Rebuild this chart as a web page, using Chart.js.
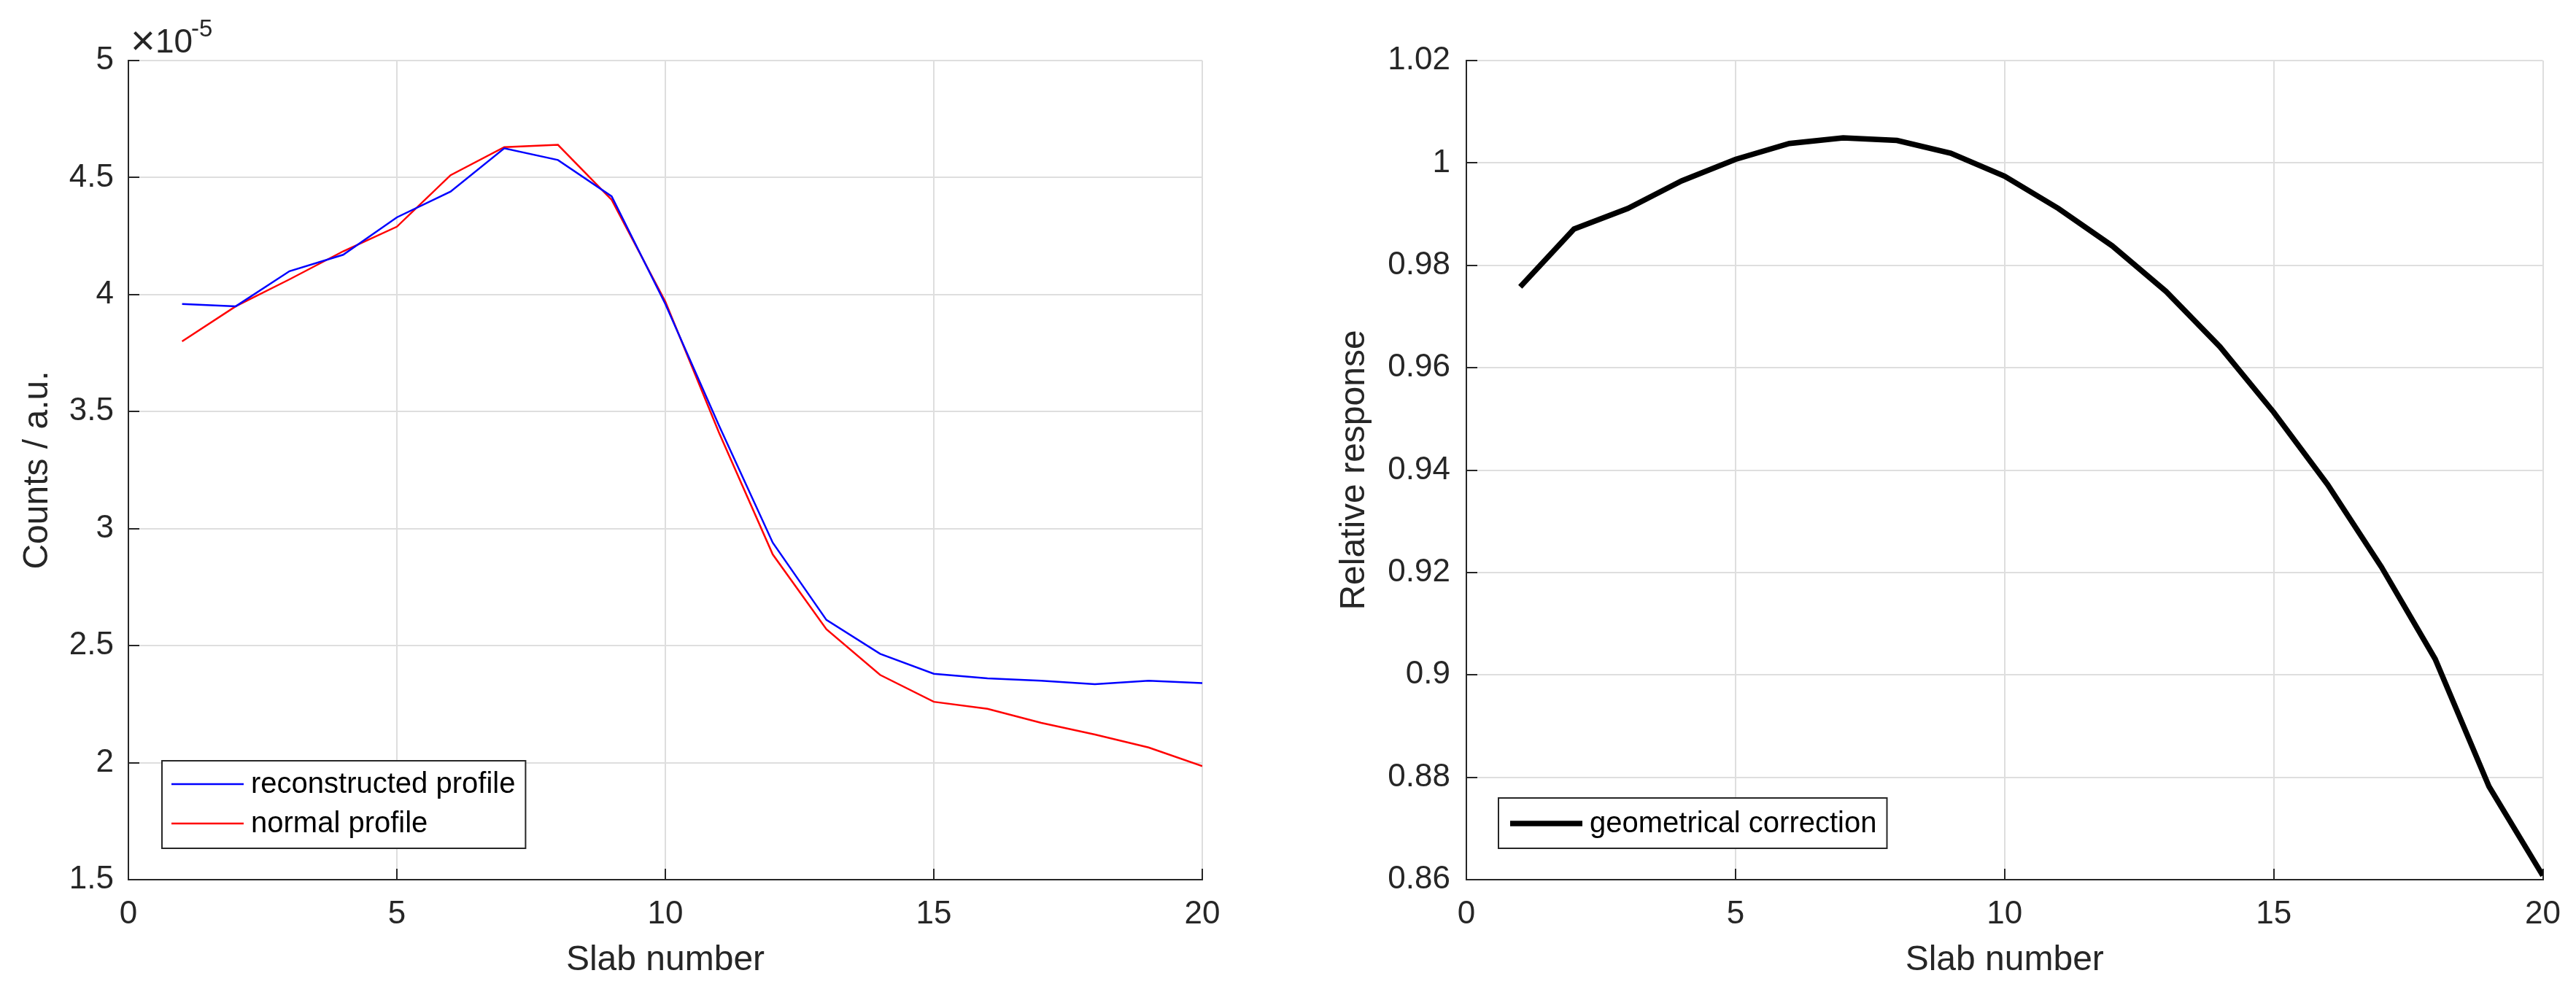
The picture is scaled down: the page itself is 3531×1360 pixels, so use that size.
<!DOCTYPE html>
<html>
<head>
<meta charset="utf-8">
<script src="https://cdn.jsdelivr.net/npm/chart.js@4.4.1/dist/chart.umd.min.js"></script>
<style>
  html, body { margin: 0; padding: 0; background: #ffffff; }
  body { width: 3531px; height: 1360px; position: relative; overflow: hidden; }
  .panel { position: absolute; top: 0; height: 1360px; }
  #p1 { left: 0; width: 1765px; }
  #p2 { left: 1765px; width: 1766px; }
</style>
</head>
<body>
<div class="panel" id="p1"><canvas id="c1" width="1765" height="1360"></canvas></div>
<div class="panel" id="p2"><canvas id="c2" width="1766" height="1360"></canvas></div>
<script>
// ---------------- data ----------------
const slabs = [1, 2, 3, 4, 5, 6, 7, 8, 9, 10, 11, 12, 13, 14, 15, 16, 17, 18, 19, 20];
// counts in units of 1e-5 (a.u.)
const reconstructedProfile = [3.96, 3.95, 4.10, 4.17, 4.33, 4.44, 4.625, 4.575, 4.42, 3.96,
                              3.44, 2.94, 2.61, 2.465, 2.38, 2.36, 2.35, 2.335, 2.35, 2.34];
const normalProfile = [3.80, 3.95, 4.065, 4.185, 4.29, 4.51, 4.63, 4.64, 4.405, 3.97,
                       3.41, 2.89, 2.57, 2.375, 2.26, 2.23, 2.17, 2.12, 2.065, 1.985];
const geometricalCorrection = [0.9758, 0.9871, 0.9911, 0.9965, 1.0007, 1.0038, 1.0049, 1.0044, 1.0019, 0.9974,
                               0.9911, 0.9838, 0.9749, 0.9641, 0.9513, 0.9372, 0.9211, 0.9031, 0.8782, 0.8608];
const countsExponent = '-5';
const xTicksRange = { min: 0, max: 20, step: 5 };
const leftYRange = { min: 1.5, max: 5, step: 0.5 };
const rightYRange = { min: 0.86, max: 1.02, step: 0.02 };
const labels = {
  xTitle: 'Slab number',
  leftY: 'Counts / a.u.',
  rightY: 'Relative response',
  rec: 'reconstructed profile',
  norm: 'normal profile',
  geo: 'geometrical correction'
};

// ---------------- styling ----------------
const FONT = '"Liberation Sans", Arial, Helvetica, sans-serif';
const AX = '#262626';
const GRID = '#dedede';

const pts = (xs, ys) => xs.map((x, i) => ({ x: x, y: ys[i] }));
const fmt = v => String(+(+v).toFixed(4));

// inward tick marks (MATLAB style)
const innerTicks = {
  id: 'innerTicks',
  beforeDatasetsDraw(chart) {
    const { ctx, chartArea: a, scales: { x, y } } = chart;
    ctx.save();
    ctx.strokeStyle = AX;
    ctx.lineWidth = 2;
    x.ticks.forEach(t => {
      const px = Math.round(x.getPixelForValue(t.value));
      ctx.beginPath(); ctx.moveTo(px, a.bottom); ctx.lineTo(px, a.bottom - 15); ctx.stroke();
    });
    y.ticks.forEach(t => {
      const py = Math.round(y.getPixelForValue(t.value));
      ctx.beginPath(); ctx.moveTo(a.left, py); ctx.lineTo(a.left + 15, py); ctx.stroke();
    });
    ctx.restore();
  }
};

// boxed legend inside the plot area
const boxLegend = {
  id: 'boxLegend',
  afterDraw(chart, args, o) {
    const { ctx, chartArea: a } = chart;
    const ds = chart.data.datasets;
    ctx.save();
    ctx.font = '40px ' + FONT;
    let maxW = 0;
    ds.forEach(d => { maxW = Math.max(maxW, ctx.measureText(d.label).width); });
    const bx = a.left + o.dx;
    const by = a.bottom - o.dyTop;
    const bw = o.textDx + maxW + 14;
    const bh = o.dyTop - o.dyBottom;
    ctx.fillStyle = '#ffffff';
    ctx.fillRect(bx, by, bw, bh);
    ctx.strokeStyle = AX;
    ctx.lineWidth = 2;
    ctx.strokeRect(bx, by, bw, bh);
    ds.forEach((d, i) => {
      const ry = by + o.firstRow + i * o.rowGap;
      ctx.strokeStyle = d.borderColor;
      ctx.lineWidth = d.borderWidth;
      ctx.beginPath(); ctx.moveTo(bx + o.lineX0, ry); ctx.lineTo(bx + o.lineX1, ry); ctx.stroke();
      ctx.fillStyle = '#000000';
      ctx.textBaseline = 'middle';
      ctx.textAlign = 'left';
      ctx.fillText(d.label, bx + o.textDx, ry + 1);
    });
    ctx.restore();
  }
};

// x10^-5 exponent label
const expLabel = {
  id: 'expLabel',
  afterDraw(chart, args, o) {
    if (!o || !o.text) return;
    const { ctx, chartArea: a } = chart;
    ctx.save();
    ctx.fillStyle = AX;
    ctx.textBaseline = 'alphabetic';
    ctx.textAlign = 'left';
    ctx.font = '300 58px ' + FONT;
    ctx.fillText('\u00d7', a.left + 3, a.top - 8);
    ctx.font = '46px ' + FONT;
    ctx.fillText('10', a.left + 37, a.top - 11);
    ctx.font = '33px ' + FONT;
    ctx.fillText(o.text, a.left + 86, a.top - 33);
    ctx.restore();
  }
};

function makeScales(yRange, yTitle, yTitlePad, yWidth, yLabelPad) {
  return {
    x: {
      type: 'linear',
      min: xTicksRange.min, max: xTicksRange.max,
      afterFit: s => { s.height = 154; },
      ticks: { stepSize: xTicksRange.step, color: AX, font: { family: FONT, size: 44 }, padding: 21, callback: fmt, maxRotation: 0 },
      grid: { color: GRID, lineWidth: 2, drawTicks: false },
      border: { display: true, color: AX, width: 2 },
      title: { display: true, text: labels.xTitle, color: AX, font: { family: FONT, size: 48 }, padding: { top: 0, bottom: 14 } }
    },
    y: {
      type: 'linear',
      min: yRange.min, max: yRange.max,
      afterFit: s => { s.width = yWidth; },
      ticks: { stepSize: yRange.step, color: AX, font: { family: FONT, size: 44 }, padding: yLabelPad, callback: fmt },
      grid: { color: GRID, lineWidth: 2, drawTicks: false },
      border: { display: true, color: AX, width: 2 },
      title: { display: true, text: yTitle, color: AX, font: { family: FONT, size: 48 }, padding: { top: yTitlePad, bottom: 0 } }
    }
  };
}

Chart.defaults.font.family = FONT;

new Chart(document.getElementById('c1'), {
  type: 'line',
  data: {
    datasets: [
      { label: labels.rec, data: pts(slabs, reconstructedProfile), borderColor: '#0000ff', borderWidth: 2.5, pointRadius: 0, tension: 0, fill: false },
      { label: labels.norm, data: pts(slabs, normalProfile), borderColor: '#ff0000', borderWidth: 2.5, pointRadius: 0, tension: 0, fill: false }
    ]
  },
  options: {
    responsive: false,
    animation: false,
    layout: { padding: { top: 83, right: 117, left: 0, bottom: 0 } },
    scales: makeScales(leftYRange, labels.leftY, 23, 176, 20),
    plugins: {
      legend: { display: false },
      tooltip: { enabled: false },
      boxLegend: { dx: 46, dyTop: 163, dyBottom: 43, firstRow: 32, rowGap: 54, lineX0: 13, lineX1: 112, textDx: 122 },
      expLabel: { text: countsExponent }
    }
  },
  plugins: [innerTicks, boxLegend, expLabel]
});

new Chart(document.getElementById('c2'), {
  type: 'line',
  data: {
    datasets: [
      { label: labels.geo, data: pts(slabs, geometricalCorrection), borderColor: '#000000', borderWidth: 7.5, pointRadius: 0, tension: 0, fill: false }
    ]
  },
  options: {
    responsive: false,
    animation: false,
    layout: { padding: { top: 83, right: 27, left: 0, bottom: 0 } },
    scales: makeScales(rightYRange, labels.rightY, 63, 245, 22),
    plugins: {
      legend: { display: false },
      tooltip: { enabled: false },
      boxLegend: { dx: 44, dyTop: 112, dyBottom: 43, firstRow: 35, rowGap: 54, lineX0: 16, lineX1: 115, textDx: 125 },
      expLabel: { text: '' }
    }
  },
  plugins: [innerTicks, boxLegend, expLabel]
});
</script>
</body>
</html>
